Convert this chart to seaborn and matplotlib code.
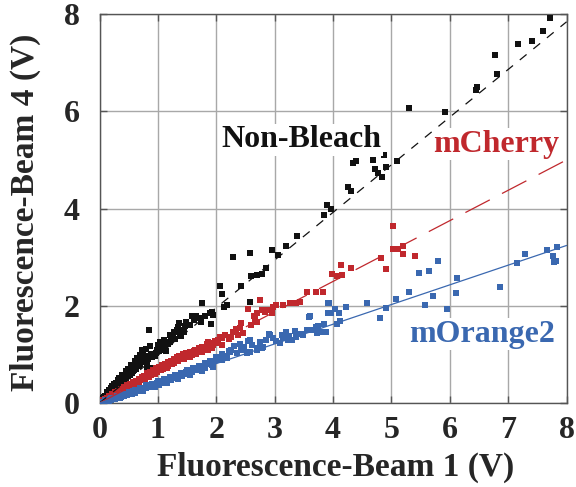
import numpy as np
import pandas as pd
import matplotlib
matplotlib.use("Agg")
import matplotlib.pyplot as plt
import seaborn as sns

# ---------------- data ----------------
nb_x = [0.05, 0.08, 0.10, 0.12, 0.13, 0.15, 0.17, 0.19, 0.21, 0.22, 0.24, 0.26, 0.28, 0.30,
        0.32, 0.34, 0.36, 0.38, 0.40, 0.42, 0.44, 0.47, 0.49, 0.50, 0.53, 0.55, 0.57, 0.59,
        0.61, 0.63, 0.66, 0.67, 0.70, 0.72, 0.73, 0.75, 0.78, 0.81, 0.81, 0.84, 0.86, 0.88,
        0.93, 0.95, 0.98, 1.04, 1.06, 1.09, 1.12, 1.14, 1.16, 1.21, 1.23, 1.26, 1.28, 1.30,
        1.35, 1.36, 1.38, 1.42, 1.44, 1.45, 1.49, 1.58, 1.66, 1.74, 1.75, 1.80, 1.89, 1.91,
        1.92, 1.95, 2.06, 2.09, 2.13, 2.18, 2.29, 2.43, 2.58, 2.58, 2.59, 2.69, 2.78, 2.86,
        2.95, 3.06, 3.19, 3.38, 3.84, 3.90, 3.97, 4.26, 4.31, 4.35, 4.39, 4.69, 4.72, 4.77,
        4.83, 4.87, 4.91, 5.09, 5.30, 5.92, 6.44, 6.46, 6.78, 6.80, 7.16, 7.40, 7.60, 7.71]
nb_y = [0.07, 0.12, 0.14, 0.20, 0.23, 0.18, 0.26, 0.30, 0.28, 0.34, 0.37, 0.33, 0.42, 0.38,
        0.47, 0.44, 0.51, 0.47, 0.55, 0.50, 0.58, 0.61, 0.56, 0.66, 0.62, 0.72, 0.66, 0.68,
        0.78, 0.74, 0.83, 0.85, 0.80, 0.92, 1.08, 0.88, 0.96, 0.82, 0.75, 1.50, 0.72, 1.00,
        0.99, 0.97, 1.10, 1.26, 1.14, 1.09, 1.19, 1.06, 1.25, 1.26, 1.35, 1.38, 1.47, 1.32,
        1.56, 1.64, 1.42, 1.50, 1.47, 1.45, 1.67, 1.78, 1.78, 1.67, 2.06, 1.78, 1.85, 1.63,
        1.88, 1.80, 2.41, 2.24, 1.98, 2.02, 3.01, 2.41, 3.08, 2.07, 2.61, 2.63, 2.65, 2.77,
        3.15, 3.05, 3.23, 3.44, 3.87, 4.08, 4.00, 4.45, 4.35, 4.94, 4.98, 4.99, 4.81, 4.74,
        4.64, 5.11, 4.86, 4.98, 6.06, 5.99, 6.44, 6.50, 7.15, 6.77, 7.38, 7.45, 7.66, 7.92]
nb_x_dense = [0.06, 0.09, 0.14, 0.16, 0.20, 0.23, 0.25, 0.27, 0.31, 0.33, 0.37, 0.39, 0.41,
              0.45, 0.46, 0.48, 0.52, 0.54, 0.56, 0.60, 0.62, 0.64, 0.68, 0.69, 0.74, 0.76,
              0.79, 0.83, 0.87, 0.90, 0.97, 1.00, 1.02, 1.10, 1.18, 1.20, 1.32, 1.40, 1.47,
              1.55, 1.62, 1.70]
nb_y_dense = [0.10, 0.08, 0.15, 0.24, 0.22, 0.29, 0.40, 0.30, 0.36, 0.52, 0.42, 0.58, 0.46,
              0.66, 0.52, 0.70, 0.58, 0.78, 0.62, 0.86, 0.70, 0.92, 0.76, 0.98, 1.02, 0.84,
              1.12, 0.90, 1.18, 0.94, 1.02, 1.20, 1.06, 1.30, 1.22, 1.40, 1.50, 1.38, 1.58,
              1.60, 1.70, 1.75]

mc_x = [0.05, 0.08, 0.10, 0.13, 0.15, 0.18, 0.20, 0.23, 0.25, 0.28, 0.30, 0.33, 0.35, 0.38,
        0.40, 0.43, 0.45, 0.48, 0.50, 0.53, 0.55, 0.58, 0.60, 0.63, 0.65, 0.68, 0.70, 0.73,
        0.75, 0.78, 0.80, 0.83, 0.85, 0.88, 0.90, 0.93, 0.95, 0.98, 1.00, 1.03, 1.05, 1.08,
        1.10, 1.13, 1.15, 1.18, 1.20, 1.23, 1.25, 1.28, 1.30, 1.33, 1.35, 1.38, 1.41, 1.46,
        1.52, 1.58, 1.61, 1.66, 1.72, 1.77, 1.81, 1.86, 1.86, 1.92, 1.94, 2.02, 2.03, 2.09,
        2.09, 2.21, 2.26, 2.29, 2.38, 2.41, 2.43, 2.46, 2.55, 2.59, 2.65, 2.66, 2.69, 2.70,
        2.75, 2.78, 2.83, 2.89, 2.95, 2.97, 3.03, 3.15, 3.26, 3.36, 3.43, 3.55, 3.71, 3.82,
        3.99, 4.07, 4.13, 4.16, 4.31, 4.82, 4.91, 5.02, 5.02, 5.11, 5.19, 5.20, 5.40]
mc_y = [0.04, 0.05, 0.08, 0.08, 0.11, 0.11, 0.14, 0.15, 0.18, 0.18, 0.21, 0.21, 0.25, 0.24,
        0.28, 0.27, 0.31, 0.30, 0.35, 0.33, 0.38, 0.37, 0.42, 0.40, 0.45, 0.43, 0.49, 0.47,
        0.52, 0.50, 0.56, 0.53, 0.59, 0.57, 0.63, 0.60, 0.66, 0.63, 0.69, 0.67, 0.72, 0.70,
        0.76, 0.73, 0.79, 0.77, 0.82, 0.80, 0.86, 0.83, 0.89, 0.86, 0.92, 0.90, 0.92, 0.95,
        0.97, 0.99, 1.06, 1.04, 1.08, 1.09, 1.13, 1.16, 1.26, 1.13, 1.19, 1.23, 1.30, 1.19,
        1.33, 1.31, 1.36, 1.45, 1.40, 1.54, 1.64, 1.43, 1.93, 1.60, 1.78, 1.72, 1.85, 1.67,
        2.12, 1.91, 1.88, 1.91, 1.85, 1.98, 2.02, 2.02, 2.06, 2.05, 2.08, 2.28, 2.28, 2.29,
        2.65, 2.61, 2.83, 2.63, 2.78, 2.99, 2.76, 3.64, 3.16, 3.16, 3.22, 3.06, 3.03]
mc_x_dense = [0.06, 0.12, 0.17, 0.22, 0.27, 0.32, 0.37, 0.42, 0.47, 0.52, 0.57, 0.62, 0.67,
              0.72, 0.77, 0.82, 0.87, 0.92, 0.97, 1.02, 1.07, 1.12, 1.17, 1.22, 1.27, 1.32,
              1.37, 1.43, 1.49, 1.55, 1.63, 1.70, 1.76, 1.84, 1.90, 1.98, 2.06, 2.15, 2.33,
              0.15, 0.25, 0.35, 0.45, 0.55, 0.65, 0.75, 0.85, 0.95, 1.05, 1.15, 1.25, 1.35,
              1.45, 1.55, 1.65, 1.75, 1.85]
mc_y_dense = [0.06, 0.10, 0.14, 0.18, 0.22, 0.25, 0.29, 0.32, 0.36, 0.39, 0.43, 0.46, 0.50,
              0.54, 0.56, 0.61, 0.64, 0.67, 0.71, 0.74, 0.78, 0.81, 0.84, 0.87, 0.91, 0.94,
              0.97, 1.00, 1.02, 1.05, 1.10, 1.14, 1.16, 1.21, 1.24, 1.27, 1.36, 1.40, 1.52,
              0.08, 0.14, 0.21, 0.27, 0.34, 0.41, 0.47, 0.54, 0.60, 0.67, 0.73, 0.80, 0.86,
              0.90, 0.95, 1.00, 1.05, 1.10]

mo_x = [0.04, 0.07, 0.09, 0.11, 0.13, 0.16, 0.18, 0.20, 0.23, 0.25, 0.27, 0.30, 0.32, 0.35,
        0.37, 0.40, 0.42, 0.45, 0.47, 0.50, 0.53, 0.55, 0.58, 0.60, 0.63, 0.66, 0.68, 0.71,
        0.74, 0.76, 0.79, 0.82, 0.85, 0.87, 0.90, 0.93, 0.96, 0.99, 1.02, 1.05, 1.08, 1.11,
        1.14, 1.17, 1.20, 1.23, 1.26, 1.29, 1.32, 1.35, 1.38, 1.42, 1.45, 1.48, 1.52, 1.55,
        1.58, 1.62, 1.65, 1.69, 1.72, 1.76, 1.80, 1.84, 1.88, 1.92, 1.96, 2.00, 2.03, 2.09,
        2.14, 2.18, 2.21, 2.23, 2.31, 2.41, 2.43, 2.52, 2.55, 2.58, 2.58, 2.69, 2.69, 2.78,
        2.80, 2.91, 2.92, 3.02, 3.09, 3.15, 3.20, 3.25, 3.30, 3.37, 3.45, 3.49, 3.59, 3.60,
        3.66, 3.70, 3.73, 3.80, 3.88, 3.92, 3.92, 3.93, 3.96, 4.03, 4.06, 4.11, 4.12, 4.22,
        4.58, 4.81, 4.91, 5.07, 5.30, 5.48, 5.57, 5.64, 5.71, 5.79, 5.96, 6.10, 6.13, 6.86,
        7.15, 7.29, 7.66, 7.77, 7.79, 7.82, 7.83]
mo_y = [0.02, 0.03, 0.05, 0.04, 0.06, 0.05, 0.08, 0.07, 0.09, 0.11, 0.09, 0.12, 0.11, 0.14,
        0.13, 0.16, 0.15, 0.18, 0.17, 0.20, 0.19, 0.22, 0.24, 0.21, 0.25, 0.27, 0.24, 0.29,
        0.27, 0.31, 0.30, 0.33, 0.35, 0.32, 0.37, 0.36, 0.39, 0.41, 0.38, 0.43, 0.42, 0.46,
        0.44, 0.48, 0.50, 0.47, 0.52, 0.54, 0.51, 0.56, 0.58, 0.55, 0.61, 0.63, 0.60, 0.66,
        0.64, 0.69, 0.72, 0.68, 0.74, 0.77, 0.73, 0.80, 0.83, 0.79, 0.86, 0.89, 0.95, 0.88,
        0.97, 0.92, 1.06, 1.04, 1.18, 1.21, 1.09, 1.02, 1.28, 1.04, 1.30, 1.13, 1.09, 1.13,
        1.16, 1.42, 1.40, 1.28, 1.23, 1.33, 1.46, 1.38, 1.29, 1.35, 1.42, 1.40, 1.76, 1.78,
        1.50, 1.56, 1.44, 1.47, 1.47, 2.05, 1.85, 2.05, 1.86, 1.93, 1.63, 1.85, 1.69, 1.98,
        2.05, 1.74, 1.95, 2.14, 2.28, 2.68, 2.01, 2.72, 2.21, 2.92, 1.93, 2.26, 2.57, 2.39,
        2.87, 3.06, 3.15, 3.03, 2.89, 2.92, 3.20]
mo_x_dense = [0.10, 0.20, 0.30, 0.40, 0.50, 0.60, 0.70, 0.80, 0.90, 1.00, 1.10, 1.20, 1.30,
              1.40, 1.50, 1.60, 1.70, 1.80, 1.90, 2.00, 2.10, 2.25, 2.35, 2.48, 2.62, 2.75,
              2.86, 2.98, 3.12, 3.22, 3.35, 3.55, 3.75, 3.85, 0.15, 0.35, 0.55, 0.75, 0.95,
              1.15, 1.35, 1.55, 1.75, 1.95]
mo_y_dense = [0.07, 0.11, 0.15, 0.19, 0.23, 0.27, 0.31, 0.36, 0.40, 0.45, 0.49, 0.54, 0.58,
              0.62, 0.67, 0.72, 0.77, 0.82, 0.87, 0.94, 1.00, 1.10, 1.02, 1.16, 1.20, 1.25,
              1.30, 1.34, 1.40, 1.30, 1.48, 1.50, 1.58, 1.62, 0.04, 0.10, 0.18, 0.25, 0.33,
              0.41, 0.49, 0.57, 0.65, 0.75]

series_names = ["Non-Bleach", "mCherry", "mOrange2"]
fit_slopes = [0.98, 0.625, 0.405]
line_x = [0, 8]
ticks = [0, 1, 2, 3, 4, 5, 6, 7, 8]
y_ticks = [0, 2, 4, 6, 8]

colors = {"Non-Bleach": "#111111", "mCherry": "#c0282d", "mOrange2": "#3a68b0"}

# ---------------- build frames ----------------
pts = pd.concat([
    pd.DataFrame({"x": nb_x + nb_x_dense, "y": nb_y + nb_y_dense, "s": "Non-Bleach"}),
    pd.DataFrame({"x": mc_x + mc_x_dense, "y": mc_y + mc_y_dense, "s": "mCherry"}),
    pd.DataFrame({"x": mo_x + mo_x_dense, "y": mo_y + mo_y_dense, "s": "mOrange2"}),
], ignore_index=True)

sns.set_style("white")
plt.rcParams["font.family"] = ["Liberation Serif", "DejaVu Serif"]
plt.rcParams["font.weight"] = "bold"

fig = plt.figure(figsize=(5.76, 4.87), dpi=100)
ax = fig.add_axes([99.5 / 576, (487 - 403) / 487, (566.6 - 99.5) / 576, (403 - 14) / 487])

ax.set_axisbelow(True)
ax.grid(True, color="#a8a8a8", linewidth=1.0)

for name in series_names:
    d = pts[pts["s"] == name]
    sns.scatterplot(data=d, x="x", y="y", ax=ax, marker="s", s=19, color=colors[name],
                    linewidth=0, legend=False, zorder=3)

line_styles = {"Non-Bleach": (0, (7, 7)), "mCherry": (0, (22, 11)), "mOrange2": "-"}
for name, k in zip(series_names, fit_slopes):
    ld = pd.DataFrame({"x": line_x, "y": [k * v for v in line_x]})
    sns.lineplot(data=ld, x="x", y="y", ax=ax, color=colors[name], linewidth=0.9,
                 linestyle=line_styles[name], zorder=4)

ax.set_xlim(0, 8)
ax.set_ylim(0, 8)
ax.set_xticks(ticks)
ax.set_yticks(y_ticks)
ax.set_xticklabels([str(t) for t in ticks])
ax.set_yticklabels([str(t) for t in y_ticks])
ax.tick_params(axis="both", direction="in", length=5, width=1, color="#555555",
               labelsize=23, top=True, right=True, left=True, bottom=True)
ax.tick_params(axis="x", pad=9)
ax.tick_params(axis="y", pad=14)
for lab in ax.get_xticklabels() + ax.get_yticklabels():
    lab.set_fontweight("bold")
for sp in ax.spines.values():
    sp.set_color("#555555")
    sp.set_linewidth(1.0)

ax.set_xlabel("Fluorescence-Beam 1 (V)", fontsize=24, fontweight="bold")
ax.set_ylabel("Fluorescence-Beam 4 (V)", fontsize=24, fontweight="bold")
ax.xaxis.set_label_coords(0.506, -0.125)
ax.yaxis.set_label_coords(-0.125, 0.49)

box = dict(facecolor="white", edgecolor="none", pad=1)
ax.text(3.46, 5.26, "Non-Bleach", color=colors["Non-Bleach"], fontsize=23, fontweight="bold",
        ha="center", va="baseline", bbox=box, zorder=5)
ax.text(6.79, 5.17, "mCherry", color=colors["mCherry"], fontsize=23, fontweight="bold",
        ha="center", va="baseline", bbox=box, zorder=5)
ax.text(6.55, 1.26, "mOrange2", color=colors["mOrange2"], fontsize=23, fontweight="bold",
        ha="center", va="baseline", bbox=box, zorder=5)

fig.savefig("out.png", dpi=100)
